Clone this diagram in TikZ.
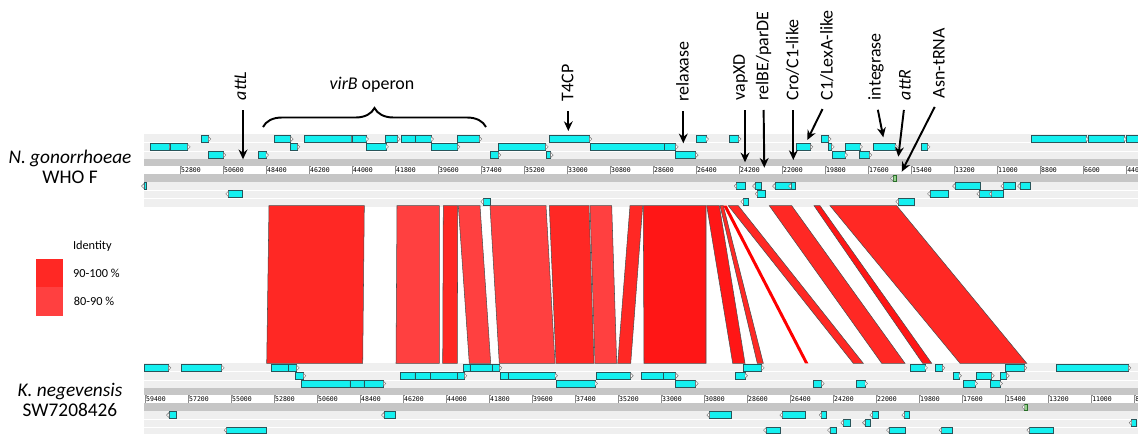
\documentclass[tikz,border=0pt]{standalone}
\usepackage{fontspec}
\setmainfont{Carlito}
\newfontfamily\rulerfont{DejaVu Sans Mono}
\usetikzlibrary{arrows.meta,decorations.pathreplacing}
\definecolor{idhi}{RGB}{255,40,36}
\definecolor{idlo}{RGB}{255,64,64}
\definecolor{idtop}{RGB}{255,22,22}
\definecolor{genefill}{RGB}{20,240,240}
\definecolor{geneline}{RGB}{40,85,90}
\definecolor{trackbg}{RGB}{239,239,239}
\definecolor{trackbar}{RGB}{198,198,198}
\definecolor{trnafill}{RGB}{150,210,140}
\definecolor{trnaline}{RGB}{40,110,40}
\tikzset{
  gene/.style = {fill=genefill, draw=geneline, line width=0.3pt},
  tip/.style = {fill=white, draw=black!55, line width=0.25pt},
  trna/.style = {fill=trnafill, draw=trnaline, line width=0.3pt},
  band/.style = {draw=black!70, line width=0.3pt},
  lbl/.style = {rotate=90, anchor=west, inner sep=0pt, font=\fontsize{10.2}{12}\selectfont},
  arrow/.style = {line width=1.1pt, -{Stealth[length=5.5pt,width=5pt]}, shorten <=0.19cm},
  genome/.style = {align=center, font=\fontsize{11}{11}\selectfont},
  legend/.style = {anchor=west, inner sep=0pt, font=\fontsize{7}{8}\selectfont},
  tick/.style = {draw=black!45, line width=0.3pt},
  ticklbl/.style = {anchor=west, inner sep=0.5pt, font=\rulerfont\fontsize{3.7}{4}\selectfont}
}
\newcommand{\fwdgene}[3]{%
  \filldraw[gene] (#1,#3) rectangle (#2,#3+6.7);
  \filldraw[tip] (#2,#3+0.8) -- (#2+2.5,#3+3.35) -- (#2,#3+5.9) -- cycle;}
\newcommand{\revgene}[3]{%
  \filldraw[gene] (#1,#3) rectangle (#2,#3+6.7);
  \filldraw[tip] (#1,#3+0.8) -- (#1-2.5,#3+3.35) -- (#1,#3+5.9) -- cycle;}
\newcommand{\track}[5]{%
  \fill[trackbg] (144,#1) rectangle (1138,#1+25);
  \fill[trackbar] (144,#1+25) rectangle (1138,#1+32);
  \fill[trackbar] (144,#1+40) rectangle (1138,#1+48);
  \fill[trackbg] (144,#1+48) rectangle (1138,#1+73);
  \foreach \s in {8.5,17,56.5,64.5} {\draw[white, line width=0.4pt] (144,#1+\s) -- (1138,#1+\s);}
  \foreach \k in {0,...,#4} {
    \edef\v{\the\numexpr#3-2200*\k\relax}
    \draw[tick] (#2+43*\k,#1+40) -- (#2+43*\k,#1+32) -- (#2+43*\k+2,#1+32);
    \node[ticklbl] (#5\k) at (#2+43*\k,#1+36.5) {\v};
  }}

\begin{document}
\begin{tikzpicture}[x=0.02cm, y=-0.02cm]
\useasboundingbox (0,0) rectangle (1138,433);
\clip (0,0) rectangle (1138,433);

% genome tracks
\track{134}{180}{52800}{22}{ra}
\track{363}{145}{59400}{23}{rb}

% N. gonorrhoeae genes
\foreach \a/\b in {201.7/208.3, 274/290.7, 304/351.7, 352.7/366, 385.7/397.7, 401/415.7, 415.7/431, 457.7/479.3, 549.3/589.3, 696.7/706, 729/738.5, 821.5/828.5, 1031.7/1086, 1088.3/1124, 1126.7/1140}
  {\fwdgene{\a}{\b}{135.7}}
\foreach \a/\b in {150/169.3, 170/187.7, 290.7/297.3, 366.7/386, 431/457.3, 498.3/545.7, 590.3/664.3, 664.7/675.7, 796.7/810.3, 828.3/831.7, 845/860, 873.3/895, 921.3/927.5}
  {\fwdgene{\a}{\b}{143.5}}
\foreach \a/\b in {208.3/223.3, 258.3/266, 490/498.3, 546/550.7, 675/695.7, 832.3/845, 859.3/869.3}
  {\fwdgene{\a}{\b}{151.7}}
\foreach \a/\b in {144/146.7, 736.7/745, 755/761, 775/791, 791/795.7, 955/980, 1003.3/1015.7, 1020/1030}
  {\revgene{\a}{\b}{182.7}}
\foreach \a/\b in {228.3/242.3, 757.7/765, 930/948.3, 979.3/991.7, 991.7/1003.3}
  {\revgene{\a}{\b}{190.5}}
\foreach \a/\b in {483.3/490, 743.3/748.3, 898.3/914.3}
  {\revgene{\a}{\b}{198.3}}
\filldraw[trna] (893,175.2) rectangle (896.7,181.5);
\filldraw[tip] (893,175.8) -- (890.5,178.3) -- (893,180.9) -- cycle;

% K. negevensis genes
\foreach \a/\b in {144/168.3, 181.7/221.7, 271.7/288.3, 288.3/296.7, 463.3/470, 470/492.7, 492.7/499.3, 743.3/761.7, 910.7/925, 935.7/942.3, 1005.7/1024.3, 1056/1128.3}
  {\fwdgene{\a}{\b}{364.5}}
\foreach \a/\b in {295/303.3, 400/415, 415/430.7, 430.7/457.3, 457.3/464.3, 500/508.3, 508.3/555, 596.7/630.7, 641/663.3, 663.3/675.7, 735.7/745, 953.3/959, 976.7/991.7, 1000.7/1006.7}
  {\fwdgene{\a}{\b}{372.4}}
\foreach \a/\b in {301.7/350, 350/364, 364/383.3, 556/595, 675/695.7, 813.3/821.7, 856/865, 963.3/975, 990.7/1000}
  {\fwdgene{\a}{\b}{380.2}}
\foreach \a/\b in {169/176, 384/395.7, 709.3/731.7, 782.3/805, 821.7/826, 872.3/878.3, 904.3/909}
  {\revgene{\a}{\b}{411.7}}
\foreach \a/\b in {843.3/850, 865/870, 1131.7/1136.7}
  {\revgene{\a}{\b}{419.4}}
\foreach \a/\b in {226.7/266, 766/780, 830/836, 889/905.7, 941.7/952.3, 1029.3/1053.3}
  {\revgene{\a}{\b}{426.8}}
\filldraw[trna] (1024.5,404) rectangle (1027.5,410.2);
\filldraw[tip] (1024.5,404.6) -- (1022,407.1) -- (1024.5,409.6) -- cycle;

% identity blocks
\foreach \a/\b/\c/\d/\col in {269/364.3/362.7/266.7/idhi, 397/439.3/439.3/396/idlo, 443.3/457.7/457.3/442.7/idhi, 458.3/480/490.7/469.3/idlo, 490/546/555/499.3/idlo, 549.3/589/594/556/idhi, 590/611.7/616.7/595/idlo, 630/642.7/630.7/617.7/idhi, 643.3/706/706/644/idtop, 706.7/719.3/745/732.7/idtop, 720/723.3/763.3/757.3/idhi, 728.3/738.3/863.3/853.3/idhi, 769.3/791.7/905/881.7/idhi, 814/820/931.7/922.7/idtop, 830/896.7/1026.7/960/idhi}
  {\filldraw[band, fill=\col] (\a,205.7) -- (\b,205.7) -- (\c,363.3) -- (\d,363.3) -- cycle;}
\fill[red] (723.3,205.7) -- (726.7,205.7) -- (808.3,363.3) -- (805,363.3) -- cycle;

% legend
\node[legend] (idt) at (72.7,246.7) {Identity};
\fill[idhi] (36,259.3) rectangle (63.3,287.3);
\fill[idlo] (36,287.3) rectangle (63.3,315.7);
\node[legend] (hi) at (72.7,273.3) {90-100 \%};
\node[legend] (lo) at (73.5,301.5) {80-90 \%};

% genome names
\node[genome] (ng) at (70,167) {\textit{N. gonorrhoeae}\\WHO F};
\node[genome] (kn) at (70,400) {\textit{K. negevensis}\\SW7208426};

% annotations
\node[lbl] (attL) at (240.5,100.5) {\textit{attL}};
\node[lbl] (t4cp) at (567.5,101.7) {T4CP};
\node[lbl] (relax) at (682.5,101.7) {relaxase};
\node[lbl] (vap) at (740.5,100.5) {vapXD};
\node[lbl] (relbe) at (763.5,100.5) {relBE/parDE};
\node[lbl] (cro) at (792.5,100.5) {Cro/C1-like};
\node[lbl] (lexa) at (826.7,100.5) {C1/LexA-like};
\node[lbl] (int) at (876,100.5) {integrase};
\node[lbl] (attR) at (905,100.5) {\textit{attR}};
\node[lbl] (trna) at (939,98.5) {Asn-tRNA};
\node[font=\fontsize{10.2}{12}\selectfont] (virb) at (372,84.3) {\textit{virB} operon};
\draw[line width=1.1pt, decorate, decoration={brace, amplitude=0.38cm}] (263,127) -- (486,127);

\coordinate (attLtip) at (243,159.3);
\coordinate (t4cptip) at (568.3,131);
\coordinate (relaxtip) at (683.3,143.3);
\coordinate (vaptip) at (745,162.3);
\coordinate (relbetip) at (764.3,167.7);
\coordinate (crotip) at (793.3,160);
\coordinate (lexatip) at (807.3,140);
\coordinate (inttip) at (883.3,137.3);
\coordinate (attRtip) at (898.3,156.7);
\coordinate (trnatip) at (901.7,171.7);
\draw[arrow] (attL.west -| attLtip) -- (attLtip);
\draw[arrow] (t4cp.west -| t4cptip) -- (t4cptip);
\draw[arrow] (relax.west -| relaxtip) -- (relaxtip);
\draw[arrow] (vap.west -| vaptip) -- (vaptip);
\draw[arrow] (relbe.west) -- (relbetip);
\draw[arrow] (cro.west -| crotip) -- (crotip);
\draw[arrow] (lexa.west) -- (lexatip);
\draw[arrow] (int.west) -- (inttip);
\draw[arrow] (attR.west) -- (attRtip);
\draw[arrow] (trna.west) -- (trnatip);
\end{tikzpicture}
\end{document}
